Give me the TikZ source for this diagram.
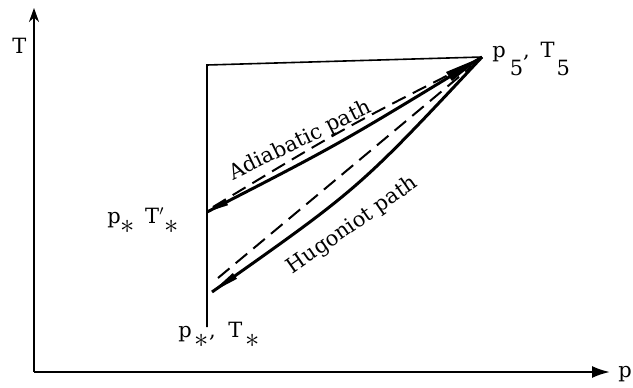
\documentclass[tikz,border=0pt]{standalone}
\usepackage{fontspec}
\setmainfont{DejaVu Serif}
\usetikzlibrary{arrows.meta}
\newcommand{\sstar}{\raisebox{-5pt}{\scalebox{1.3}{$\ast$}}}
\begin{document}
\begin{tikzpicture}[x=0.5pt,y=-0.5pt,
  lbl/.style={inner sep=0pt,font=\fontsize{10.5}{12}\selectfont},
  axis/.style={line width=1.1pt},
  frame/.style={line width=0.8pt},
  solidpath/.style={line width=1.5pt},
  dashpath/.style={line width=1pt,dash pattern=on 7.5pt off 4pt}]
\useasboundingbox (0,0) rectangle (633,387);
% axes
\coordinate (O) at (34,372);
\coordinate (Ytip) at (34,8);
\coordinate (Xtip) at (610,372);
\draw[axis,-{Stealth[length=7pt,width=5pt]}] (O) -- (Ytip);
\draw[axis,-{Latex[length=9pt,width=6pt]}] (O) -- (Xtip);
\node[lbl,anchor=base west] (tlab) at (12,53) {T};
\node[lbl,anchor=base west] (plab) at (618,377) {p};
% frame
\coordinate (A) at (207,212);
\coordinate (H) at (212,292);
\coordinate (E) at (482,57);
\coordinate (V) at (207,65);
\coordinate (Vb) at (207,327);
\draw[frame] (Vb) -- (V) -- (E);
% paths
\draw[solidpath] (A) .. controls (338.5,144.5) .. (E);
\draw[solidpath] (H) .. controls (359,188.5) .. (E);
\fill (A) -- (228,205.2) -- (225.2,198.8) -- cycle;
\fill (H) -- (237,278.8) -- (232.8,273) -- cycle;
\coordinate (D1) at (213,207);
\coordinate (D2) at (472,63);
\coordinate (G1) at (218,278);
\coordinate (G2) at (472,66);
\draw[dashpath] (D1) .. controls (343,128.5) .. (D2);
\draw[dashpath] (G1) -- (G2);
\fill (E) -- (446,72) -- (452,81) -- cycle;
% labels
\node[lbl,anchor=base,rotate=26] (adlab) at (303,146) {Adiabatic path};
\node[lbl,anchor=base,rotate=35] (hulab) at (356,230) {Hugoniot path};
\node[lbl,anchor=base west] (p5lab) at (492,57) {p\kern2pt\raisebox{-9pt}{5}, \kern2pt T\kern1pt\raisebox{-9pt}{5}};
\node[lbl,anchor=base west] (pslab) at (107,223) {p\sstar\kern5pt T$'$\sstar};
\node[lbl,anchor=base west] (pstlab) at (178,337) {p\kern1.5pt\sstar, \kern3pt T\kern1.5pt\sstar};
\end{tikzpicture}
\end{document}
